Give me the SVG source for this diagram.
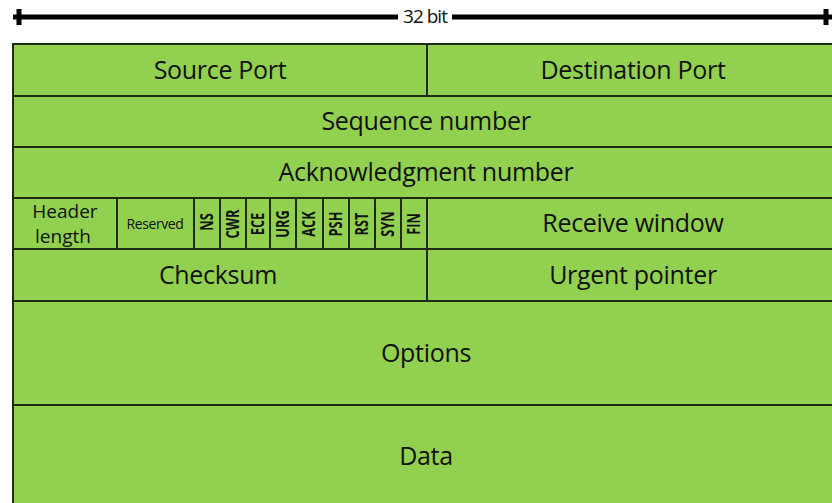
<svg xmlns="http://www.w3.org/2000/svg" width="832" height="503" viewBox="0 0 832 503">
<style>
.cell{fill:#92d050;stroke:#1e2a14;stroke-width:2}
.t{font-family:"Open Sans","Noto Sans",sans-serif;font-size:25px;fill:#111;text-anchor:middle;letter-spacing:-0.3px}
.h{font-family:"Open Sans","Noto Sans",sans-serif;font-size:19px;fill:#111;text-anchor:middle}
.r{font-family:"Open Sans","Noto Sans",sans-serif;font-size:14px;fill:#111;text-anchor:middle;letter-spacing:-0.4px}
.f{font-family:"Open Sans","Noto Sans",sans-serif;font-size:17px;font-weight:bold;fill:#111;text-anchor:middle}
.bar{stroke:#000;stroke-width:5}
</style>
<g id="width-arrow">
<line class="bar" x1="13" y1="17" x2="398" y2="17"/>
<line class="bar" x1="452" y1="17" x2="832" y2="17"/>
<line class="bar" x1="19" y1="9" x2="19" y2="25"/>
<line class="bar" x1="826" y1="9" x2="826" y2="25"/>
<text x="425" y="23" font-family="Open Sans, Noto Sans, sans-serif" font-size="19" text-anchor="middle" fill="#111" letter-spacing="-1">32 bit</text>
</g>
<g id="source-port"><rect class="cell" x="13" y="44" width="414" height="52"/><text class="t" x="220" y="79">Source Port</text></g>
<g id="destination-port"><rect class="cell" x="427" y="44" width="413" height="52"/><text class="t" x="633" y="79">Destination Port</text></g>
<g id="sequence-number"><rect class="cell" x="13" y="96" width="827" height="51"/><text class="t" x="426" y="130">Sequence number</text></g>
<g id="ack-number"><rect class="cell" x="13" y="147" width="827" height="51"/><text class="t" x="426" y="181">Acknowledgment number</text></g>
<g id="header-length"><rect class="cell" x="13" y="198" width="104" height="51"/><text class="h" x="65" y="218">Header</text><text class="h" x="63" y="243">length</text></g>
<g id="reserved"><rect class="cell" x="117" y="198" width="77" height="51"/><text class="r" x="155" y="229">Reserved</text></g>
<g id="flags">
<rect class="cell" x="194" y="198" width="26" height="51"/><text class="f" transform="translate(213,222) rotate(-90) scale(0.75,1)">NS</text>
<rect class="cell" x="220" y="198" width="26" height="51"/><text class="f" transform="translate(239,224) rotate(-90) scale(0.75,1)">CWR</text>
<rect class="cell" x="246" y="198" width="24" height="51"/><text class="f" transform="translate(264,224) rotate(-90) scale(0.75,1)">ECE</text>
<rect class="cell" x="270" y="198" width="26" height="51"/><text class="f" transform="translate(289,224) rotate(-90) scale(0.75,1)">URG</text>
<rect class="cell" x="296" y="198" width="27" height="51"/><text class="f" transform="translate(315,224) rotate(-90) scale(0.75,1)">ACK</text>
<rect class="cell" x="323" y="198" width="26" height="51"/><text class="f" transform="translate(342,224) rotate(-90) scale(0.75,1)">PSH</text>
<rect class="cell" x="349" y="198" width="26" height="51"/><text class="f" transform="translate(368,224) rotate(-90) scale(0.75,1)">RST</text>
<rect class="cell" x="375" y="198" width="26" height="51"/><text class="f" transform="translate(394,224) rotate(-90) scale(0.75,1)">SYN</text>
<rect class="cell" x="401" y="198" width="26" height="51"/><text class="f" transform="translate(420,224) rotate(-90) scale(0.75,1)">FIN</text>
</g>
<g id="receive-window"><rect class="cell" x="427" y="198" width="413" height="51"/><text class="t" x="633" y="232">Receive window</text></g>
<g id="checksum"><rect class="cell" x="13" y="249" width="414" height="52"/><text class="t" x="218" y="284">Checksum</text></g>
<g id="urgent-pointer"><rect class="cell" x="427" y="249" width="413" height="52"/><text class="t" x="633" y="284">Urgent pointer</text></g>
<g id="options"><rect class="cell" x="13" y="301" width="827" height="104"/><text class="t" x="426" y="362">Options</text></g>
<g id="data"><rect class="cell" x="13" y="405" width="827" height="104"/><text class="t" x="426" y="465">Data</text></g>
</svg>
